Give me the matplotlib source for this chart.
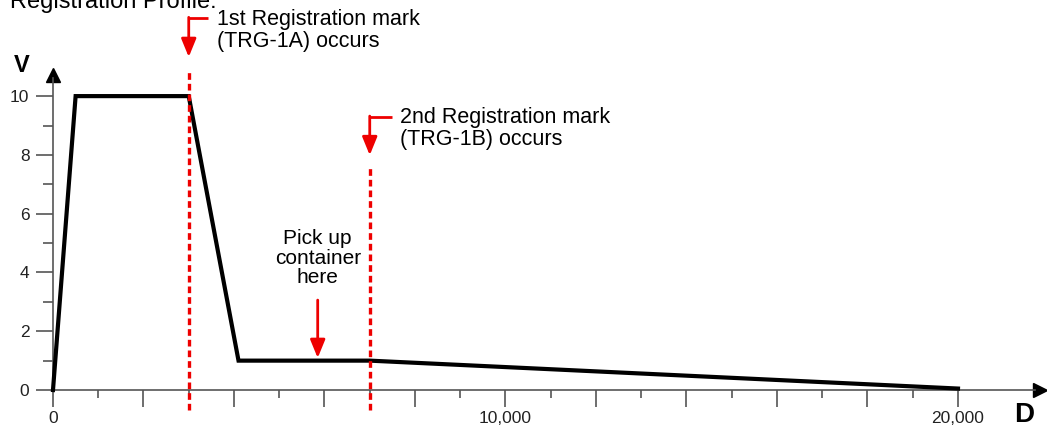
import matplotlib.pyplot as plt
import numpy as np

plt.rcParams['font.family'] = ['Liberation Sans', 'DejaVu Sans']

# profile: distance D vs velocity V
dist = [0, 500, 3000, 4100, 7000, 20000]
vel = [0, 10, 10, 1, 1, 0.05]

mark1_d = 3000
mark2_d = 7000
pickup_d = 5850

mark1_text = '1st Registration mark\n(TRG-1A) occurs'
mark2_text = '2nd Registration mark\n(TRG-1B) occurs'
pickup_text = 'Pick up\ncontainer\nhere'

x_major = list(range(0, 20001, 2000))
x_minor = list(range(1000, 20000, 2000))
x_labels = ['0', '', '', '', '', '10,000', '', '', '', '', '20,000']
y_major = [0, 2, 4, 6, 8, 10]
y_minor = [1, 3, 5, 7, 9]

fig = plt.figure(figsize=(10.47, 4.3), dpi=100)
ax = fig.add_axes([0, 0, 1, 1])
ax.set_xlim(-1171, 21967)
ax.set_ylim(-1.36, 13.27)

axis_col = '#555555'
for s in ['top', 'right']:
    ax.spines[s].set_visible(False)
ax.spines['left'].set_position(('data', 0))
ax.spines['bottom'].set_position(('data', 0))
ax.spines['left'].set_bounds(0, 10.6)
ax.spines['bottom'].set_bounds(0, 21700)
for s in ['left', 'bottom']:
    ax.spines[s].set_color(axis_col)
    ax.spines[s].set_linewidth(1.2)

ax.set_xticks(x_major)
ax.set_xticklabels(x_labels)
ax.set_xticks(x_minor, minor=True)
ax.set_yticks(y_major)
ax.set_yticks(y_minor, minor=True)
ax.tick_params(axis='both', which='both', direction='out', color=axis_col,
               width=1.2, labelsize=12.5, labelcolor='#222222')
ax.tick_params(axis='x', which='major', length=12, pad=3)
ax.tick_params(axis='x', which='minor', length=6)
ax.tick_params(axis='y', which='major', length=12, pad=5)
ax.tick_params(axis='y', which='minor', length=7)

# axis arrow heads
ax.plot([0], [10.72], marker='^', markersize=10, color='black', clip_on=False)
ax.plot([21810], [0], marker='>', markersize=10, color='black', clip_on=False)

ax.text(-685, 11.05, 'V', fontsize=17, fontweight='bold', ha='center', va='center')
ax.text(21459, -0.85, 'D', fontsize=20, fontweight='bold', ha='center', va='center')

# profile line
ax.plot(dist, vel, color='black', lw=3, solid_joinstyle='miter', zorder=3)

# registration marks
red = '#ee0000'
dash = (0, (2.0, 1.2))
ax.plot([mark1_d, mark1_d], [-0.68, 10.88], color=red, lw=2.4,
        linestyle=dash, zorder=4)
ax.plot([mark2_d, mark2_d], [-0.68, 7.55], color=red, lw=2.4,
        linestyle=dash, zorder=4)

arrow = dict(arrowstyle='-|>,head_length=1.1,head_width=0.45', color=red,
             lw=2, shrinkA=0, shrinkB=0, mutation_scale=10)

ax.plot([mark1_d, 3425], [12.65, 12.65], color=red, lw=2, solid_capstyle='butt')
ax.annotate('', xy=(mark1_d, 11.33), xytext=(mark1_d, 12.68), arrowprops=arrow)
ax.text(3624, 12.24, mark1_text, fontsize=15.5, ha='left', va='center', linespacing=1.08)

ax.plot([mark2_d, 7492], [9.29, 9.29], color=red, lw=2, solid_capstyle='butt')
ax.annotate('', xy=(mark2_d, 7.99), xytext=(mark2_d, 9.32), arrowprops=arrow)
ax.text(7669, 8.89, mark2_text, fontsize=15.5, ha='left', va='center', linespacing=1.08)

ax.annotate('', xy=(pickup_d, 1.09), xytext=(pickup_d, 3.06), arrowprops=arrow)
ax.text(pickup_d, 4.49, pickup_text, fontsize=15, ha='center', va='center', linespacing=1.05)

fig.text(10 / 1047, 1 - 8 / 430, 'Registration Profile:', fontsize=17,
         ha='left', va='baseline')

fig.savefig('out.png', dpi=100)
